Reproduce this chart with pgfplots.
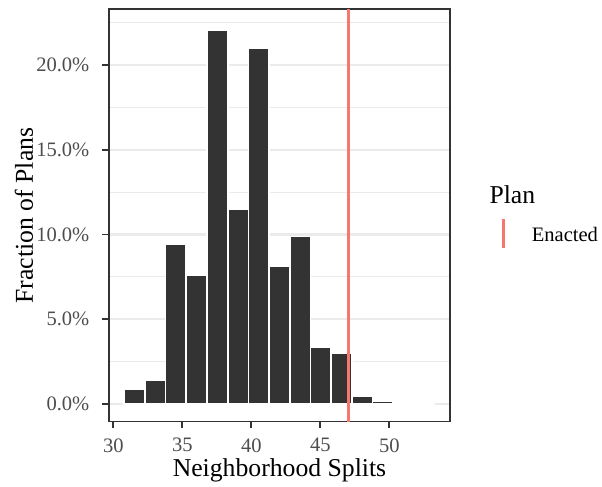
\documentclass[border=0pt]{standalone}
\usepackage{fontspec}
\setmainfont{Liberation Serif}
\usepackage{pgfplots}
\pgfplotsset{compat=1.18}
\definecolor{barfill}{HTML}{333333}
\definecolor{gridc}{HTML}{EBEBEB}
\definecolor{tickc}{HTML}{4D4D4D}
\definecolor{enacted}{HTML}{F8766D}
\begin{document}
\begin{tikzpicture}
\begin{axis}[
  scale only axis,
  width=341bp, height=412.4bp,
  xmin=29.69, xmax=54.40,
  ymin=-1.045, ymax=23.3,
  axis line style={draw=barfill, line width=1.6bp},
  xtick={30,35,40,45,50},
  xticklabels={30,35,40,45,50},
  ytick={0,5,10,15,20},
  yticklabels={0.0\%,5.0\%,10.0\%,15.0\%,20.0\%},
  minor ytick={2.5,7.5,12.5,17.5,22.5},
  ymajorgrids, yminorgrids,
  major grid style={draw=gridc, line width=2.2bp},
  minor grid style={draw=gridc, line width=1.1bp},
  tick align=outside,
  major tick length=6.5bp,
  minor tick length=0pt,
  tick style={draw=barfill, line width=1.8bp},
  xtick pos=bottom, ytick pos=left,
  xticklabel style={font=\fontsize{20.6}{24}\selectfont, text=tickc, anchor=north, inner sep=0pt, yshift=-10bp},
  yticklabel style={font=\fontsize{20.6}{24}\selectfont, text=tickc, anchor=east, inner sep=0pt, xshift=-13bp},
  xlabel={Neighborhood Splits},
  ylabel={Fraction of Plans},
  xlabel style={font=\fontsize{25.8}{30}\selectfont, at={(axis description cs:0.5,-0.1334)}, anchor=base, inner sep=0pt},
  ylabel style={font=\fontsize{25.8}{30}\selectfont, at={(axis description cs:-0.2229,0.5)}, anchor=base, inner sep=0pt},
  clip=true,
]
\addplot[ybar, bar width=1.5, bar shift=0pt, fill=barfill, draw=white, line width=1.7bp]
coordinates {
(31.54,0.88) (33.04,1.39) (34.54,9.41) (36.04,7.61) (37.54,22.08)
(39.04,11.53) (40.54,21.02) (42.04,8.16) (43.54,9.88) (45.04,3.33)
(46.54,3.02) (48.04,0.45) (49.54,0.18) (51.04,0) (52.54,0)
};
\addplot[draw=enacted, line width=3bp] coordinates {(47.03,-5) (47.03,30)};
\end{axis}
\node[anchor=base west, inner sep=0pt, font=\fontsize{25.8}{30}\selectfont] at (380.3bp,217.7bp) {Plan};
\draw[enacted, line width=3bp] (394.3bp,173.4bp) -- (394.3bp,202.4bp);
\node[anchor=base west, inner sep=0pt, font=\fontsize{20.6}{24}\selectfont] at (422.7bp,180bp) {Enacted};
\path (-109bp,-65.3bp) rectangle (493bp,421.7bp);
\end{tikzpicture}
\end{document}
